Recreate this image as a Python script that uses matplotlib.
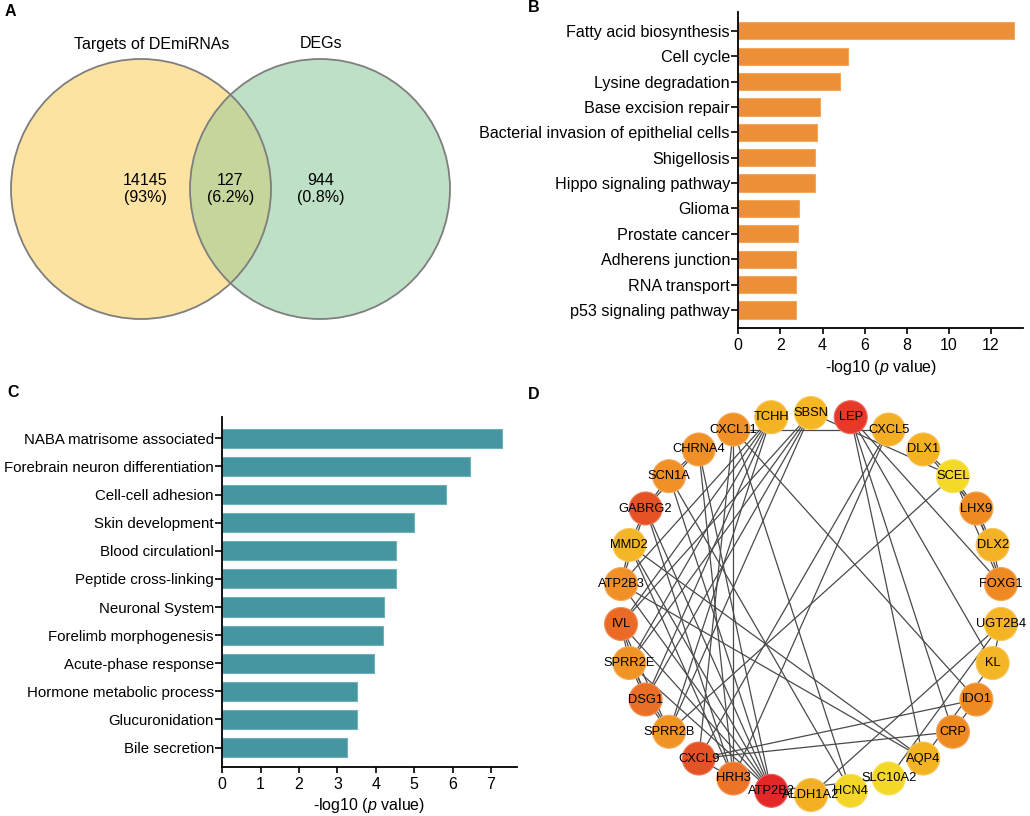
import matplotlib
matplotlib.use("Agg")
import matplotlib.pyplot as plt
from matplotlib.patches import Circle
import numpy as np

plt.rcParams['font.family'] = ['Liberation Sans', 'DejaVu Sans']
plt.rcParams['mathtext.fontset'] = 'custom'
plt.rcParams['mathtext.it'] = 'Liberation Sans:italic'
plt.rcParams['mathtext.rm'] = 'Liberation Sans'

## A: venn
venn_sets = ["Targets of DEmiRNAs", "DEGs"]
venn_counts = [14145, 127, 944]
venn_pcts = ["93%", "6.2%", "0.8%"]

## B: KEGG pathways
kegg_terms = ["Fatty acid biosynthesis", "Cell cycle", "Lysine degradation",
              "Base excision repair", "Bacterial invasion of epithelial cells",
              "Shigellosis", "Hippo signaling pathway", "Glioma", "Prostate cancer",
              "Adherens junction", "RNA transport", "p53 signaling pathway"]
kegg_vals = [13.1, 5.19, 4.83, 3.88, 3.75, 3.64, 3.64, 2.90, 2.85, 2.76, 2.74, 2.74]

## C: GO / pathway terms
go_terms = ["NABA matrisome associated", "Forebrain neuron differentiation",
            "Cell-cell adhesion", "Skin development", "Blood circulationl",
            "Peptide cross-linking", "Neuronal System", "Forelimb morphogenesis",
            "Acute-phase response", "Hormone metabolic process", "Glucuronidation",
            "Bile secretion"]
go_vals = [7.28, 6.46, 5.84, 4.99, 4.53, 4.52, 4.21, 4.18, 3.94, 3.52, 3.50, 3.25]

## D: PPI network (clockwise from top)
genes = ["SBSN", "LEP", "CXCL5", "DLX1", "SCEL", "LHX9", "DLX2", "FOXG1",
         "UGT2B4", "KL", "IDO1", "CRP", "AQP4", "SLC10A2", "HCN4", "ALDH1A2",
         "ATP2B2", "HRH3", "CXCL9", "SPRR2B", "DSG1", "SPRR2E", "IVL", "ATP2B3",
         "MMD2", "GABRG2", "SCN1A", "CHRNA4", "CXCL11", "TCHH"]
gene_colors = ["#F5B722", "#E6392A", "#F4AE24", "#F4B124", "#F4DA26", "#EF8A22",
               "#F4B326", "#EF8A22", "#F4B424", "#F4B526", "#EE8A22", "#EE8A22",
               "#F4B422", "#F4D828", "#F4D628", "#F4B024", "#E42828", "#EC7426",
               "#E45226", "#F09426", "#EA6E26", "#F09426", "#EA6A26", "#F09026",
               "#F4B526", "#E45226", "#F09026", "#F09026", "#F09026", "#F4B322"]
edges = [
    ("CXCL11", "CXCL5"), ("SBSN", "SCEL"),
    ("DLX1", "SCEL"), ("DLX1", "LHX9"), ("SCEL", "LHX9"), ("SCEL", "DLX2"),
    ("SCEL", "FOXG1"), ("LHX9", "DLX2"), ("LHX9", "FOXG1"), ("DLX2", "FOXG1"),
    ("LEP", "CRP"), ("LEP", "KL"), ("LEP", "FOXG1"), ("LEP", "AQP4"),
    ("CXCL5", "CXCL9"), ("CXCL5", "HRH3"), ("SCEL", "SPRR2B"),
    ("UGT2B4", "KL"), ("UGT2B4", "SLC10A2"), ("UGT2B4", "ALDH1A2"), ("KL", "AQP4"),
    ("IDO1", "CRP"), ("CXCL9", "IDO1"), ("CXCL9", "CRP"),
    ("CXCL11", "IDO1"), ("CXCL11", "HCN4"), ("ATP2B2", "SLC10A2"), ("CXCL9", "HRH3"),
    ("IVL", "SPRR2E"), ("IVL", "DSG1"), ("IVL", "SPRR2B"), ("SPRR2E", "DSG1"),
    ("SPRR2E", "SPRR2B"), ("DSG1", "SPRR2B"),
    ("TCHH", "IVL"), ("TCHH", "SPRR2E"), ("TCHH", "DSG1"), ("TCHH", "SPRR2B"),
    ("TCHH", "ATP2B3"), ("SBSN", "IVL"), ("SBSN", "SPRR2E"), ("SBSN", "DSG1"),
    ("SBSN", "SPRR2B"),
    ("MMD2", "ATP2B3"), ("GABRG2", "MMD2"), ("GABRG2", "ATP2B3"), ("SCN1A", "GABRG2"),
    ("SCN1A", "CHRNA4"), ("CHRNA4", "GABRG2"),
    ("MMD2", "AQP4"), ("ATP2B3", "AQP4"),
    ("CXCL11", "HRH3"), ("CXCL11", "CXCL9"), ("CHRNA4", "HRH3"), ("GABRG2", "HRH3"),
    ("MMD2", "HRH3"),
    ("CHRNA4", "ATP2B2"), ("SCN1A", "ATP2B2"), ("ATP2B3", "ATP2B2"), ("IVL", "ATP2B2"),
    ("SPRR2E", "ATP2B2"), ("MMD2", "ATP2B2"), ("GABRG2", "ATP2B2"), ("SCN1A", "HCN4"),
]

FS = 11.5
fig = plt.figure(figsize=(10.3, 8.16), dpi=100)

## panel letters
for lab, x, y in [("A", 5, 11), ("B", 528, 8), ("C", 7, 392), ("D", 528, 394)]:
    fig.text(x/1030., 1-y/816., lab, fontsize=11.5, fontweight="bold", ha="left", va="center")

## ---- A ----
axA = fig.add_axes([0, 1-400/816., 520/1030., 400/816.])
axA.set_xlim(0, 520); axA.set_ylim(400, 0); axA.axis("off")
cL, cR, cy, rad = 141, 320, 189, 130
left = Circle((cL, cy), rad, facecolor="#FCE3A1", edgecolor="none")
right = Circle((cR, cy), rad, facecolor="#BEE0C6", edgecolor="none")
axA.add_patch(left); axA.add_patch(right)
lens = Circle((cL, cy), rad, facecolor="#C6D59B", edgecolor="none")
axA.add_patch(lens); lens.set_clip_path(right)
for c in (cL, cR):
    axA.add_patch(Circle((c, cy), rad, facecolor="none", edgecolor="#7E7E7E", lw=1.3))
axA.text(152, 44, venn_sets[0], ha="center", va="center", fontsize=FS)
axA.text(321, 44, venn_sets[1], ha="center", va="center", fontsize=FS)
for x, n, p in zip([145, (cL+cR)/2., 321], venn_counts, venn_pcts):
    axA.text(x, 189, "%d\n(%s)" % (n, p), ha="center", va="center", fontsize=FS, linespacing=1.1)

## ---- bar panels ----
def bar_panel(rect, terms, vals, color, edge, xmax, xticks, ybot, ytop, fs):
    ax = fig.add_axes(rect)
    y = np.arange(len(terms))
    ax.barh(y, vals, height=0.68, color=color, edgecolor=edge, linewidth=0.8)
    ax.set_yticks(y); ax.set_yticklabels(terms, fontsize=fs)
    ax.set_ylim(ybot, ytop)
    ax.set_xlim(0, xmax)
    ax.set_xticks(xticks); ax.set_xticklabels([str(t) for t in xticks], fontsize=FS)
    for s in ("top", "right"):
        ax.spines[s].set_visible(False)
    for s in ("left", "bottom"):
        ax.spines[s].set_linewidth(1.3)
    ax.tick_params(axis="y", length=5, width=1.2, pad=1)
    ax.tick_params(axis="x", length=4.5, width=1.2, pad=3)
    ax.set_xlabel("-log10 ($p$ value)", fontsize=FS, labelpad=3)
    return ax

bar_panel([738.3/1030., 1-328/816., (1023-738.3)/1030., (328-12)/816.],
          kegg_terms, kegg_vals, "#EC9038", "#F3A65E", 13.52, list(range(0, 13, 2)),
          11.71, -0.74, 11.6)
bar_panel([222.3/1030., 1-766.7/816., (516.7-222.3)/1030., (766.7-417.3)/816.],
          go_terms, go_vals, "#4596A0", "#6DB1B9", 7.67, list(range(0, 8)),
          11.68, -0.75, 10.8)

## ---- D ----
axD = fig.add_axes([580/1030., 0, 450/1030., 421/816.])
axD.set_xlim(580, 1030); axD.set_ylim(816, 395); axD.axis("off")
ncx, ncy, nr = 811, 604, 191
ang = np.deg2rad(np.arange(len(genes))*360./len(genes))
pos = {g: (ncx + nr*np.sin(a), ncy - nr*np.cos(a)) for g, a in zip(genes, ang)}
for a, b in edges:
    axD.plot([pos[a][0], pos[b][0]], [pos[a][1], pos[b][1]], color="#4A4A4A", lw=0.9, zorder=1)
for g, col in zip(genes, gene_colors):
    rgb = np.array(matplotlib.colors.to_rgb(col))
    axD.add_patch(Circle(pos[g], 16.5, facecolor=col, edgecolor=rgb*0.75+0.25, lw=0.8, zorder=2))
    axD.text(pos[g][0], pos[g][1], g, ha="center", va="center", fontsize=9.3, zorder=3)

fig.savefig("out.png", dpi=100)
